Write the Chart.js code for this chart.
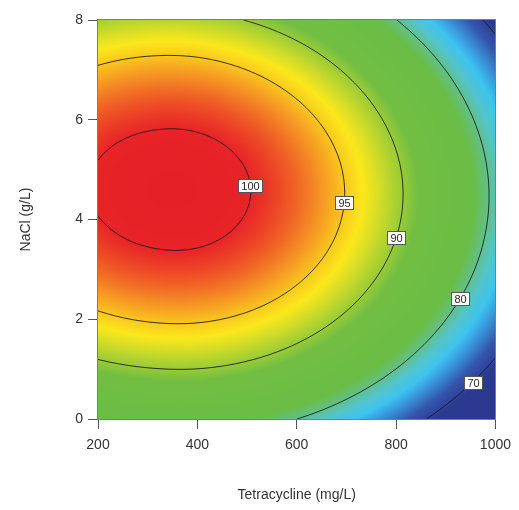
<!DOCTYPE html>
<html>
<head>
<meta charset="utf-8">
<script src="https://cdn.jsdelivr.net/npm/chart.js@4.4.0/dist/chart.umd.min.js"></script>
<style>
  html, body { margin: 0; padding: 0; background: #ffffff; }
  #wrap { width: 519px; height: 510px; }
</style>
</head>
<body>
<div id="wrap"><canvas id="chart" width="519" height="510"></canvas></div>
<script>
// Grid of the fitted response: removal (%) by tetracycline and NaCl
const tetracycline = [200, 300, 400, 500, 600, 700, 800, 900, 1000];   // mg/L
const nacl = [0, 1, 2, 3, 4, 5, 6, 7, 8];                              // g/L
// one row per NaCl level (0 → 8), one value per tetracycline column
const removal = [
  [81.62, 82.68, 82.84, 81.95, 80.01, 77.02, 72.99, 67.90, 61.76],
  [88.81, 89.83, 89.96, 89.03, 87.06, 84.04, 79.96, 74.84, 68.66],
  [94.25, 95.24, 95.33, 94.38, 92.37, 89.31, 85.20, 80.04, 73.83],
  [97.96, 98.91, 98.97, 97.98, 95.93, 92.84, 88.69, 83.50, 77.26],
  [99.92, 100.85, 100.87, 99.84, 97.76, 94.63, 90.45, 85.22, 78.94],
  [100.15, 101.04, 101.02, 99.96, 97.85, 94.68, 90.47, 85.20, 78.89],
  [98.64, 99.49, 99.44, 98.34, 96.19, 92.99, 88.74, 83.44, 77.10],
  [95.38, 96.20, 96.12, 94.98, 92.80, 89.56, 85.28, 79.95, 73.56],
  [90.39, 91.17, 91.05, 89.88, 87.66, 84.40, 80.08, 74.71, 68.29]
];
// contour levels and where each level's tag sits
const contourLevels = [70, 80, 90, 95, 100];
const labelTetracycline = [942, 924, 800, 690, 508];
const labelNacl = [0.74, 2.41, 3.64, 4.35, 4.69];
// axis ticks
const xTicks = [200, 400, 600, 800, 1000];
const yTicks = [0, 2, 4, 6, 8];

const FONT = '"Liberation Sans", Arial, sans-serif';

// colour ramp: value → rgb
const ramp = [
  [69.0, [43, 57, 144]],
  [72.0, [52, 86, 172]],
  [75.0, [58, 160, 226]],
  [76.5, [62, 196, 240]],
  [78.5, [84, 196, 200]],
  [80.5, [100, 191, 122]],
  [82.0, [106, 189, 70]],
  [88.5, [114, 190, 66]],
  [91.0, [178, 211, 48]],
  [93.6, [251, 232, 28]],
  [95.0, [250, 200, 30]],
  [96.6, [245, 150, 36]],
  [98.6, [238, 82, 38]],
  [100.0, [232, 36, 40]],
  [102.0, [228, 30, 38]]
];
function rampColor(v) {
  if (v <= ramp[0][0]) return ramp[0][1];
  for (let i = 1; i < ramp.length; i++) {
    if (v <= ramp[i][0]) {
      const a = ramp[i - 1], b = ramp[i];
      const t = (v - a[0]) / (b[0] - a[0]);
      return [a[1][0] + (b[1][0] - a[1][0]) * t,
              a[1][1] + (b[1][1] - a[1][1]) * t,
              a[1][2] + (b[1][2] - a[1][2]) * t];
    }
  }
  return ramp[ramp.length - 1][1];
}

// Catmull-Rom interpolation over the grid, with quadratic end extension
function at(arr, i) {
  const n = arr.length;
  if (i < 0) return 3 * arr[0] - 3 * arr[1] + arr[2];
  if (i >= n) return 3 * arr[n - 1] - 3 * arr[n - 2] + arr[n - 3];
  return arr[i];
}
function cr(p0, p1, p2, p3, t) {
  return 0.5 * (2 * p1 + (p2 - p0) * t + (2 * p0 - 5 * p1 + 4 * p2 - p3) * t * t +
                (3 * p1 - p0 - 3 * p2 + p3) * t * t * t);
}
function interp1(arr, u) {
  let i = Math.floor(u);
  if (i > arr.length - 2) i = arr.length - 2;
  if (i < 0) i = 0;
  const t = u - i;
  return cr(at(arr, i - 1), arr[i], arr[i + 1], at(arr, i + 2), t);
}
function columnAt(t) {
  const u = (t - tetracycline[0]) / (tetracycline[1] - tetracycline[0]);
  return removal.map(row => interp1(row, u));
}
function valueOnColumn(col, n) {
  const v = (n - nacl[0]) / (nacl[1] - nacl[0]);
  return interp1(col, v);
}
function surface(t, n) { return valueOnColumn(columnAt(t), n); }

const surfacePlugin = {
  id: 'surface',
  beforeDatasetsDraw(chart) {
    const { ctx, chartArea: a, scales: { x, y } } = chart;
    const L = Math.round(a.left), T = Math.round(a.top);
    const W = Math.round(a.right) - L, H = Math.round(a.bottom) - T;
    const off = document.createElement('canvas');
    off.width = W; off.height = H;
    const octx = off.getContext('2d');
    const img = octx.createImageData(W, H);
    for (let i = 0; i < W; i++) {
      const col = columnAt(x.getValueForPixel(L + i + 0.5));
      for (let j = 0; j < H; j++) {
        const c = rampColor(valueOnColumn(col, y.getValueForPixel(T + j + 0.5)));
        const k = (j * W + i) * 4;
        img.data[k] = c[0]; img.data[k + 1] = c[1]; img.data[k + 2] = c[2]; img.data[k + 3] = 255;
      }
    }
    octx.putImageData(img, 0, 0);
    ctx.drawImage(off, L, T);
  },
  afterDatasetsDraw(chart) {
    const { ctx, chartArea: a, scales: { x, y } } = chart;
    // sample the surface on a pixel lattice for the contour lines
    const step = 2;
    const nx = Math.ceil((a.right - a.left) / step) + 1;
    const ny = Math.ceil((a.bottom - a.top) / step) + 1;
    const px = [], py = [], f = [];
    for (let i = 0; i < nx; i++) px.push(Math.min(a.left + i * step, a.right));
    for (let j = 0; j < ny; j++) py.push(Math.min(a.top + j * step, a.bottom));
    for (let i = 0; i < nx; i++) {
      const col = columnAt(x.getValueForPixel(px[i]));
      f.push(py.map(p => valueOnColumn(col, y.getValueForPixel(p))));
    }
    ctx.save();
    ctx.beginPath();
    ctx.rect(a.left, a.top, a.right - a.left, a.bottom - a.top);
    ctx.clip();
    ctx.lineWidth = 1;
    ctx.strokeStyle = 'rgba(25, 25, 25, 0.85)';
    contourLevels.forEach(level => {
      ctx.beginPath();
      for (let i = 0; i < nx - 1; i++) {
        for (let j = 0; j < ny - 1; j++) {
          const v = [f[i][j], f[i + 1][j], f[i + 1][j + 1], f[i][j + 1]];
          const p = [[px[i], py[j]], [px[i + 1], py[j]], [px[i + 1], py[j + 1]], [px[i], py[j + 1]]];
          const pts = [];
          for (let e = 0; e < 4; e++) {
            const v0 = v[e], v1 = v[(e + 1) % 4];
            if ((v0 < level) !== (v1 < level)) {
              const t = (level - v0) / (v1 - v0);
              const p0 = p[e], p1 = p[(e + 1) % 4];
              pts.push([p0[0] + (p1[0] - p0[0]) * t, p0[1] + (p1[1] - p0[1]) * t]);
            }
          }
          for (let k = 0; k + 1 < pts.length; k += 2) {
            ctx.moveTo(pts[k][0], pts[k][1]);
            ctx.lineTo(pts[k + 1][0], pts[k + 1][1]);
          }
        }
      }
      ctx.stroke();
    });
    ctx.restore();

    // level tags, slid along the row onto their contour
    ctx.save();
    ctx.font = '11px ' + FONT;
    ctx.textAlign = 'center';
    ctx.textBaseline = 'middle';
    contourLevels.forEach((level, k) => {
      const n = labelNacl[k];
      let t = labelTetracycline[k];
      let lo = t - 60, hi = t + 60;
      const g = s => surface(s, n) - level;
      if (g(lo) * g(hi) < 0) {
        for (let it = 0; it < 40; it++) {
          const mid = (lo + hi) / 2;
          if (g(lo) * g(mid) <= 0) hi = mid; else lo = mid;
        }
        t = (lo + hi) / 2;
      }
      const cx = x.getPixelForValue(t), cy = y.getPixelForValue(n);
      const text = String(level);
      const w = Math.round(ctx.measureText(text).width) + 6, h = 13;
      const bx = Math.round(cx - w / 2) + 0.5, by = Math.round(cy - h / 2) + 0.5;
      ctx.fillStyle = '#ffffff';
      ctx.fillRect(bx, by, w, h);
      ctx.strokeStyle = '#555555';
      ctx.lineWidth = 1;
      ctx.strokeRect(bx, by, w, h);
      ctx.fillStyle = '#2a2a2a';
      ctx.fillText(text, bx + w / 2, by + h / 2 + 0.5);
    });
    ctx.restore();

    // plot frame
    ctx.save();
    ctx.strokeStyle = '#7d7d7d';
    ctx.lineWidth = 1;
    ctx.strokeRect(Math.round(a.left) - 0.5, Math.round(a.top) - 0.5,
                   Math.round(a.right - a.left) + 1, Math.round(a.bottom - a.top) + 1);
    ctx.restore();
  }
};

const tickFont = { family: FONT, size: 14 };
new Chart(document.getElementById('chart'), {
  type: 'scatter',
  data: { datasets: [{ data: [], pointRadius: 0 }] },
  options: {
    responsive: false,
    animation: false,
    devicePixelRatio: 1,
    layout: { padding: { top: 20, right: 21, left: 0, bottom: 0 } },
    plugins: { legend: { display: false }, tooltip: { enabled: false } },
    scales: {
      x: {
        type: 'linear', min: xTicks[0], max: xTicks[xTicks.length - 1],
        afterBuildTicks: s => { s.ticks = xTicks.map(v => ({ value: v })); },
        afterFit: s => { s.height = 91; },
        grid: { drawOnChartArea: false, tickLength: 10, color: '#555555' },
        border: { color: '#555555' },
        ticks: { padding: 8, color: '#333333', font: tickFont, callback: v => String(v) },
        title: { display: true, text: 'Tetracycline (mg/L)', color: '#333333',
                 font: { family: FONT, size: 14 }, padding: { top: 0, bottom: 6 } }
      },
      y: {
        type: 'linear', min: yTicks[0], max: yTicks[yTicks.length - 1],
        afterBuildTicks: s => { s.ticks = yTicks.map(v => ({ value: v })); },
        afterFit: s => { s.width = 98; },
        grid: { drawOnChartArea: false, tickLength: 10, color: '#555555' },
        border: { color: '#555555' },
        ticks: { padding: 5, color: '#333333', font: tickFont, callback: v => String(v) },
        title: { display: true, text: 'NaCl (g/L)', color: '#333333',
                 font: { family: FONT, size: 14 }, padding: { top: 18, bottom: 0 } }
      }
    }
  },
  plugins: [surfacePlugin]
});
</script>
</body>
</html>
